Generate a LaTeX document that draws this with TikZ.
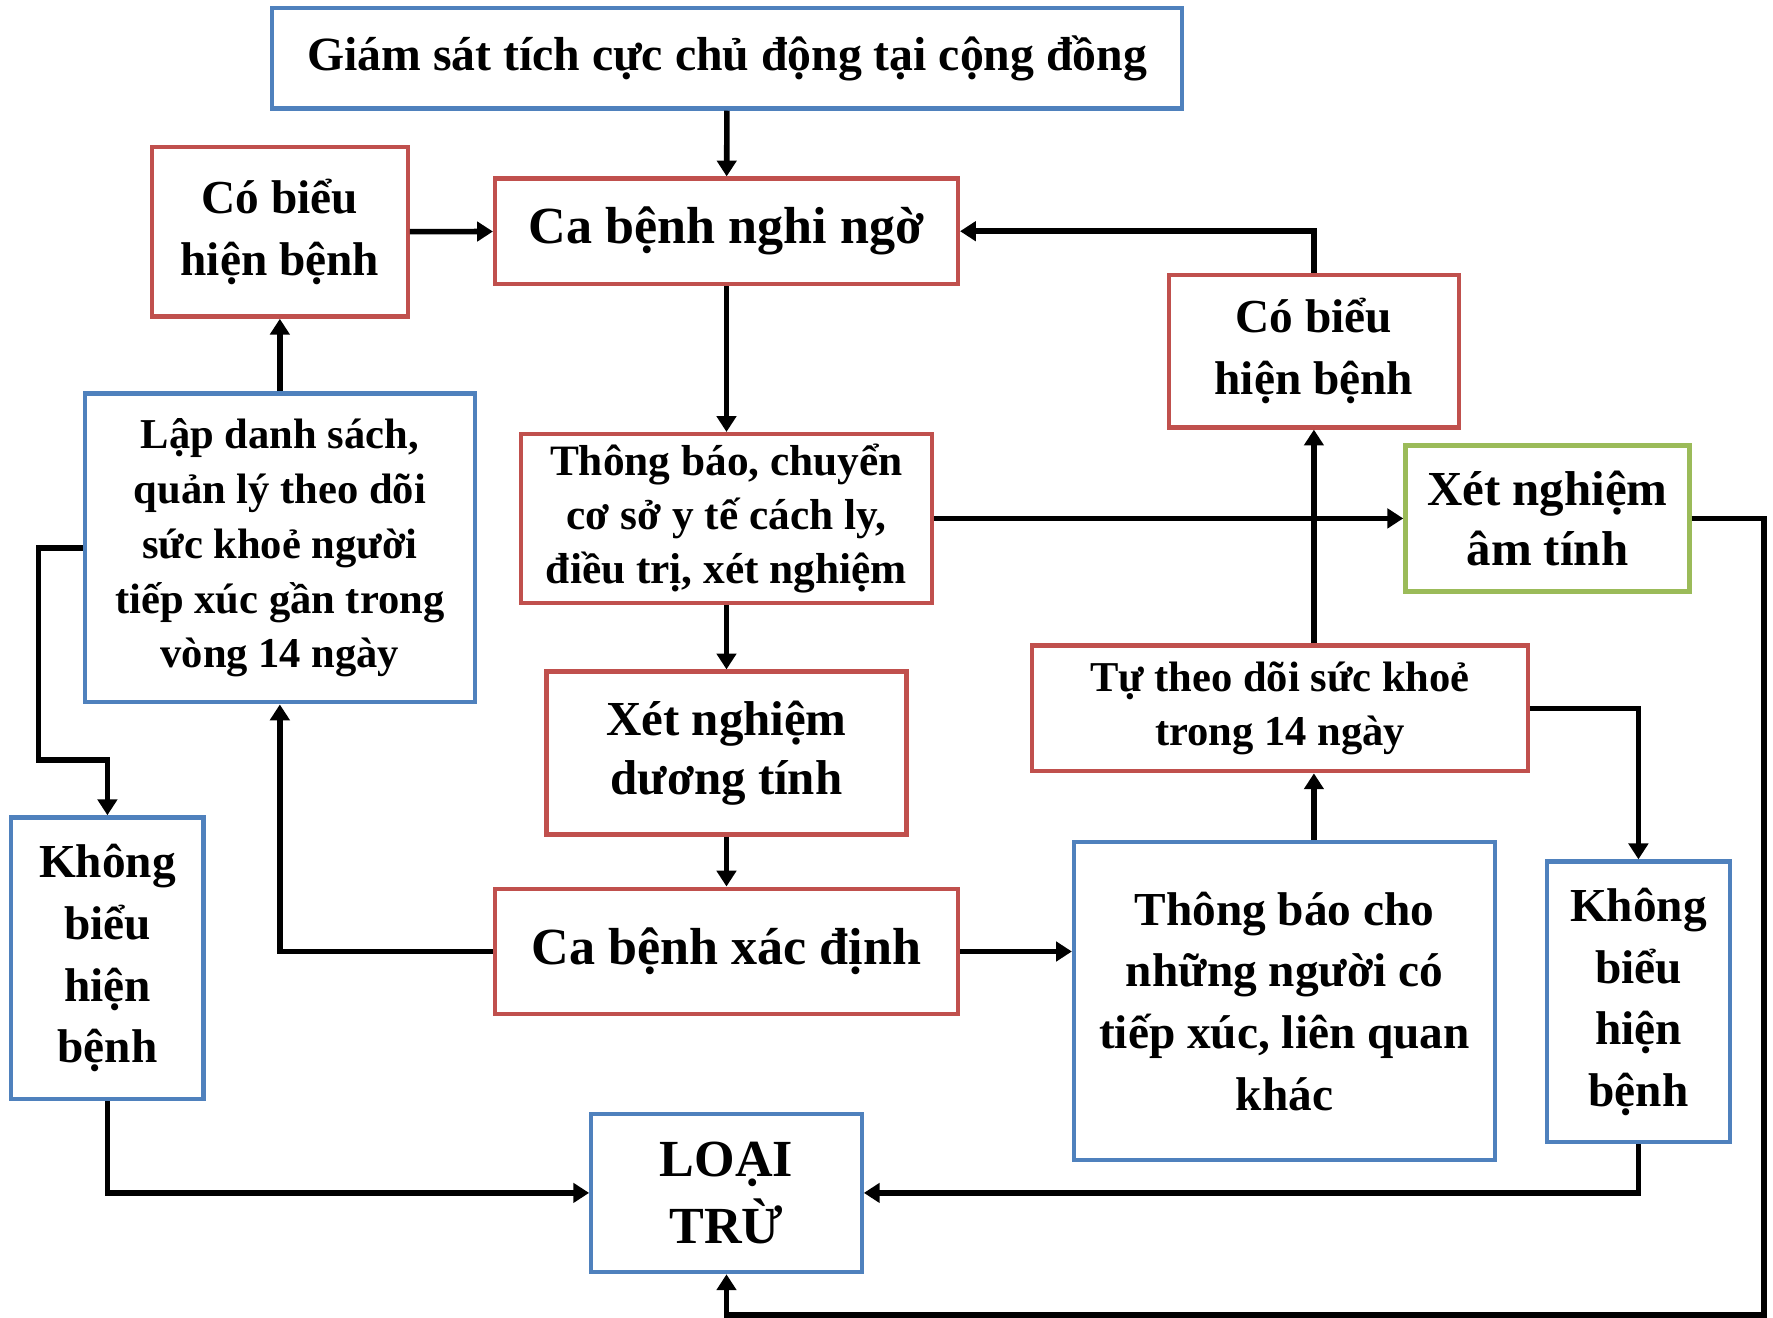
\documentclass[tikz,border=0pt]{standalone}
\usepackage{fontspec}
\setmainfont{Liberation Serif}
\usetikzlibrary{arrows.meta}
\definecolor{boxblue}{RGB}{79,129,189}
\definecolor{boxred}{RGB}{192,80,77}
\definecolor{boxgreen}{RGB}{155,187,89}

\begin{document}
\begin{tikzpicture}[x=0.01cm,y=-0.01cm,
		>={Triangle[length=1.4mm,width=1.7mm]},
		box/.style={rectangle,draw,line width=1.1pt,align=center,inner sep=0pt},
		bbox/.style={box,draw=boxblue},
		rbox/.style={box,draw=boxred},
		gbox/.style={box,draw=boxgreen},
		fT/.style={font=\fontsize{12}{15}\selectfont\bfseries},
		fL/.style={font=\fontsize{13.1}{17}\selectfont\bfseries},
		fM/.style={font=\fontsize{11.9}{15.5}\selectfont\bfseries},
		fX/.style={font=\fontsize{12.3}{15}\selectfont\bfseries},
		fS/.style={font=\fontsize{10.7}{13.8}\selectfont\bfseries},
		fSb/.style={font=\fontsize{10.9}{13.6}\selectfont\bfseries},
		link/.style={->,line width=1.4pt}]
			\useasboundingbox (0,0) rectangle (1568,1165);
			
			% boxes
			
			\node[bbox,fT,minimum width=8.04cm,minimum height=0.89cm] (top) at (643,51.5) {Giám sát tích cực chủ động tại cộng đồng};
			\node[rbox,fL,minimum width=4.09cm,minimum height=0.93cm] (nghi) at (642.5,204.5) {Ca bệnh nghi ngờ};
			\node[rbox,fM,minimum width=2.26cm,minimum height=1.50cm] (coL) at (247.5,205) {Có biểu\\hiện bệnh};
			\node[rbox,fM,minimum width=2.56cm,minimum height=1.35cm] (coR) at (1162,310.5) {Có biểu\\hiện bệnh};
			\node[bbox,fS,minimum width=3.45cm,minimum height=2.73cm] (lap) at (247.5,484.5) {Lập danh sách,\\quản lý theo dõi\\sức khoẻ người\\tiếp xúc gần trong\\vòng 14 ngày};
			\node[rbox,fSb,minimum width=3.63cm,minimum height=1.49cm] (tb) at (642.5,458.5) {Thông báo, chuyển\\cơ sở y tế cách ly,\\điều trị, xét nghiệm};
			\node[gbox,fX,minimum width=2.51cm,minimum height=1.29cm] (am) at (1368.5,458.5) {Xét nghiệm\\âm tính};
			\node[rbox,fX,minimum width=3.18cm,minimum height=1.44cm] (duong) at (642.5,666) {Xét nghiệm\\dương tính};
			\node[rbox,fS,minimum width=4.38cm,minimum height=1.11cm] (tu) at (1132,626.5) {Tự theo dõi sức khoẻ\\trong 14 ngày};
			\node[bbox,fM,minimum width=1.70cm,minimum height=2.49cm] (khongL) at (95,847.5) {Không\\biểu\\hiện\\bệnh};
			\node[rbox,fL,minimum width=4.09cm,minimum height=1.11cm] (xd) at (642.5,841.5) {Ca bệnh xác định};
			\node[bbox,fM,minimum width=3.72cm,minimum height=2.81cm] (tbc) at (1136,885.5) {Thông báo cho\\những người có\\tiếp xúc, liên quan\\khác};
			\node[bbox,fM,minimum width=1.62cm,minimum height=2.48cm] (khongR) at (1449,886) {Không\\biểu\\hiện\\bệnh};
			\node[bbox,fL,minimum width=2.39cm,minimum height=1.40cm] (loai) at (642.5,1055) {LOẠI\\TRỪ};
			
			% bends
			
			\coordinate (l1) at (34,672);
			\coordinate (r1) at (1560,1163);
			
			% links
			
			\draw[link] (top) -- (nghi);
			\draw[link] (coL) -- (nghi);
			\draw[link] (lap) -- (coL);
			\draw[link] (coR.north) |- (nghi.east);
			\draw[link] (nghi) -- (tb);
			\draw[link] (tb) -- (am);
			\draw[link] (tb) -- (duong);
			\draw[link] (duong) -- (xd);
			\draw[link] (xd.west) -| (lap.south);
			\draw[link] (xd.east) -- (xd.east -| tbc.west);
			\draw[link] (tbc.north -| coR.south) -- (tu.south -| coR.south);
			\draw[link] (tu.north -| coR.south) -- (coR.south);
			\draw[link] (tu.east) -| (khongR.north);
			\draw[link] (lap.west) -| (l1) -| (khongL.north);
			\draw[link] (khongL.south) |- (loai.west);
			\draw[link] (khongR.south) |- (loai.east);
			\draw[link] (am.east) -| (r1) -| (loai.south);
		\end{tikzpicture}
\end{document}
